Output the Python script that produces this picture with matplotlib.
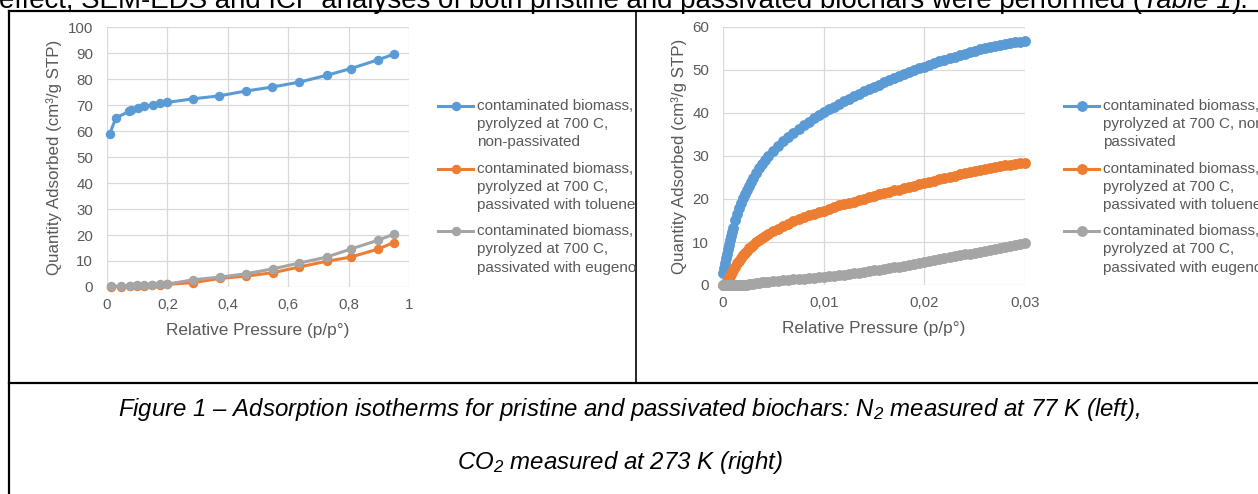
import matplotlib
matplotlib.use("Agg")
import matplotlib.pyplot as plt
from matplotlib.legend_handler import HandlerLine2D
from matplotlib.lines import Line2D
from matplotlib.transforms import Bbox

plt.rcParams['font.family'] = ['Liberation Sans', 'DejaVu Sans']
plt.rcParams['mathtext.fontset'] = 'custom'
plt.rcParams['mathtext.rm'] = 'Liberation Sans:italic'
plt.rcParams['mathtext.it'] = 'Liberation Sans:italic'

# ---- N2 isotherm (left)
n2_x_blue = [0.009, 0.030, 0.074, 0.080, 0.101, 0.124, 0.151, 0.176, 0.200, 0.286,
             0.371, 0.461, 0.547, 0.637, 0.727, 0.807, 0.898, 0.949]
n2_blue = [59.0, 65.1, 67.6, 68.2, 68.7, 69.6, 70.0, 70.6, 71.0, 72.4,
           73.5, 75.4, 76.9, 78.8, 81.4, 84.0, 87.4, 89.5]
n2_x_other = [0.013, 0.047, 0.077, 0.100, 0.124, 0.150, 0.176, 0.200, 0.286,
              0.374, 0.461, 0.550, 0.637, 0.727, 0.807, 0.898, 0.949]
n2_orange = [0.1, 0.1, 0.2, 0.4, 0.5, 0.7, 0.9, 1.0, 1.7,
             3.3, 4.2, 5.5, 7.7, 9.9, 11.5, 14.6, 17.1]
n2_gray = [0.3, 0.3, 0.3, 0.6, 0.7, 0.9, 1.0, 1.1, 2.8,
           3.8, 5.1, 7.0, 9.2, 11.5, 14.6, 18.0, 20.3]

# ---- CO2 isotherm (right)
co2_x = [0, 0.0001, 0.0002, 0.0003, 0.0004, 0.0005, 0.0006, 0.0007, 0.0008, 0.0009, 0.001,
         0.0012, 0.0014, 0.0016, 0.0018, 0.002, 0.0022, 0.0024, 0.0026, 0.0028, 0.003,
         0.0033, 0.0036, 0.0039, 0.0042, 0.0045,
         0.005, 0.0055, 0.006, 0.0065, 0.007, 0.0075, 0.008, 0.0085, 0.009, 0.0095,
         0.01, 0.0105, 0.011, 0.0115, 0.012, 0.0125, 0.013, 0.0135, 0.014, 0.0145,
         0.015, 0.0155, 0.016, 0.0165, 0.017, 0.0175, 0.018, 0.0185, 0.019, 0.0195,
         0.02, 0.0205, 0.021, 0.0215, 0.022, 0.0225, 0.023, 0.0235, 0.024, 0.0245,
         0.025, 0.0255, 0.026, 0.0265, 0.027, 0.0275, 0.028, 0.0285, 0.029, 0.0295,
         0.03]
co2_blue = [2.7, 4.0, 5.0, 6.2, 7.3, 8.4, 9.4, 10.5, 11.4, 12.4, 13.3,
            15.0, 16.6, 17.8, 19.0, 20.2, 21.2, 22.2, 23.1, 24.0, 24.9,
            26.0, 27.1, 28.1, 29.0, 29.9,
            31.2, 32.4, 33.5, 34.5, 35.4, 36.3, 37.2, 38.0, 38.8, 39.5,
            40.2, 40.9, 41.5, 42.1, 42.7, 43.3, 43.9, 44.4, 45.0, 45.5,
            46.1, 46.6, 47.1, 47.6, 48.1, 48.6, 49.1, 49.5, 50.0, 50.4,
            50.8, 51.2, 51.6, 52.0, 52.4, 52.8, 53.1, 53.5, 53.8, 54.1,
            54.5, 54.8, 55.1, 55.4, 55.6, 55.8, 56.0, 56.2, 56.4, 56.6,
            56.7]
co2_orange = [0.0, 0.0, 0.1, 0.4, 0.9, 1.3, 1.7, 2.1, 2.6, 3.0, 3.4,
              4.2, 5.0, 5.6, 6.3, 6.9, 7.4, 8.0, 8.5, 8.9, 9.3,
              9.9, 10.4, 10.9, 11.4, 11.9,
              12.5, 13.1, 13.7, 14.2, 14.8, 15.3, 15.8, 16.2, 16.5, 16.9,
              17.3, 17.7, 18.1, 18.5, 18.8, 19.1, 19.4, 19.7, 20.1, 20.5,
              20.8, 21.1, 21.4, 21.7, 22.0, 22.2, 22.5, 22.8, 23.1, 23.4,
              23.7, 24.0, 24.3, 24.6, 24.9, 25.2, 25.4, 25.7, 26.0, 26.2,
              26.5, 26.7, 27.0, 27.2, 27.4, 27.6, 27.8, 28.0, 28.2, 28.3,
              28.4]
co2_gray = [0.0, 0.0, 0.0, 0.0, 0.0, 0.0, 0.0, 0.0, 0.0, 0.0, 0.0,
            0.0, 0.0, 0.0, 0.0, 0.0, 0.1, 0.1, 0.2, 0.2, 0.3,
            0.4, 0.5, 0.6, 0.7, 0.8,
            0.9, 1.0, 1.1, 1.2, 1.3, 1.4, 1.5, 1.6, 1.7, 1.8,
            1.9, 2.0, 2.2, 2.3, 2.4, 2.6, 2.7, 2.9, 3.0, 3.2,
            3.4, 3.6, 3.7, 3.9, 4.1, 4.3, 4.5, 4.7, 4.9, 5.1,
            5.3, 5.5, 5.7, 6.0, 6.2, 6.4, 6.7, 6.9, 7.1, 7.3,
            7.5, 7.7, 7.9, 8.2, 8.4, 8.6, 8.8, 9.1, 9.3, 9.5,
            9.7]

labels_left = ["contaminated biomass,\npyrolyzed at 700 C,\nnon-passivated",
               "contaminated biomass,\npyrolyzed at 700 C,\npassivated with toluene",
               "contaminated biomass,\npyrolyzed at 700 C,\npassivated with eugenol"]
labels_right = ["contaminated biomass,\npyrolyzed at 700 C, non-\npassivated",
                "contaminated biomass,\npyrolyzed at 700 C,\npassivated with toluene",
                "contaminated biomass,\npyrolyzed at 700 C,\npassivated with eugenol"]
colors = ["#5B9BD5", "#ED7D31", "#A5A5A5"]

left_xticks = [0, 0.2, 0.4, 0.6, 0.8, 1]
left_xticklabels = ["0", "0,2", "0,4", "0,6", "0,8", "1"]
right_xticks = [0, 0.01, 0.02, 0.03]
right_xticklabels = ["0", "0,01", "0,02", "0,03"]

TXT = "#595959"
W, H = 1258, 494
fig = plt.figure(figsize=(W / 100, H / 100), dpi=100)


def px_axes(left, top, right, bottom):
    return fig.add_axes([left / W, 1 - bottom / H, (right - left) / W, (bottom - top) / H])


class FirstLineHandler(HandlerLine2D):
    # put the legend handle on the first line of a multi-line label
    def __init__(self, shift, **kw):
        super().__init__(**kw)
        self.shift = shift

    def create_artists(self, legend, orig_handle, xdescent, ydescent, width, height, fontsize, trans):
        return super().create_artists(legend, orig_handle, xdescent, ydescent - 2 * self.shift,
                                      width, height, fontsize, trans)


# page / table background
bg = fig.add_axes([0, 0, 1, 1], zorder=-1)
bg.set_xlim(0, W)
bg.set_ylim(H, 0)
bg.axis('off')
bg.plot([9, W], [11, 11], color='black', lw=1.6)
bg.plot([9, 9], [11, H], color='black', lw=1.6)
bg.plot([636, 636], [11, 383], color='black', lw=1.2)
bg.plot([9, W], [383, 383], color='black', lw=1.6)

renderer = fig.canvas.get_renderer()
top_fs = 19.9
t1 = bg.text(-1, 8, "effect, SEM-EDS and ICP analyses of both pristine and passivated biochars were performed (",
             fontsize=top_fs, va='baseline', ha='left', color='black')
x1 = t1.get_window_extent(renderer).x1
t2 = bg.text(x1, 8, "Table 1", fontsize=top_fs, va='baseline', ha='left', style='italic', color='black')
x2 = t2.get_window_extent(renderer).x1
bg.text(x2, 8, ").", fontsize=top_fs, va='baseline', ha='left', color='black')

bg.text(629, 416, "Figure 1 – Adsorption isotherms for pristine and passivated biochars: N$_2$ measured at 77 K (left),",
        fontsize=17.3, style='italic', ha='center', va='baseline', color='black')
bg.text(620, 469, "CO$_2$ measured at 273 K (right)",
        fontsize=17.3, style='italic', ha='center', va='baseline', color='black')


def style_axes(ax, xlim, ylim, xticks, xticklabels, yticks):
    ax.set_xlim(*xlim)
    ax.set_ylim(*ylim)
    ax.set_xticks(xticks)
    ax.set_xticklabels(xticklabels)
    ax.set_yticks(yticks)
    for s in ax.spines.values():
        s.set_visible(False)
    ax.grid(True, color="#D9D9D9", lw=0.9)
    ax.set_axisbelow(True)
    ax.tick_params(length=0, labelsize=10.8, labelcolor=TXT)
    ax.tick_params(axis='y', pad=10)
    ax.tick_params(axis='x', pad=8)
    ax.set_xlabel("Relative Pressure (p/p°)", fontsize=12.4, color=TXT)
    ax.set_ylabel("Quantity Adsorbed (cm³/g STP)", fontsize=12.2, color=TXT)


# left chart
axl = px_axes(107, 27, 409, 287)
axl.plot(n2_x_blue, n2_blue, color=colors[0], lw=2.2, marker='o', ms=5.8, label=labels_left[0], clip_on=False)
axl.plot(n2_x_other, n2_orange, color=colors[1], lw=2.2, marker='o', ms=5.8, label=labels_left[1], clip_on=False)
axl.plot(n2_x_other, n2_gray, color=colors[2], lw=2.2, marker='o', ms=5.8, label=labels_left[2], clip_on=False)
style_axes(axl, (0, 1), (0, 100), left_xticks, left_xticklabels, range(0, 101, 10))
axl.yaxis.set_label_coords(-0.15, 0.5)
axl.xaxis.set_label_coords(0.5, -0.14)

# right chart
axr = px_axes(723, 27, 1025, 285)
axr.plot(co2_x, co2_blue, color=colors[0], lw=2.2, marker='o', ms=6.8, label=labels_right[0], clip_on=False)
axr.plot(co2_x, co2_orange, color=colors[1], lw=2.2, marker='o', ms=6.8, label=labels_right[1], clip_on=False)
axr.plot(co2_x, co2_gray, color=colors[2], lw=2.2, marker='o', ms=6.8, label=labels_right[2], clip_on=False)
style_axes(axr, (0, 0.03), (0, 60), right_xticks, right_xticklabels, range(0, 61, 10))
axr.yaxis.set_label_coords(-0.12, 0.5)
axr.xaxis.set_label_coords(0.5, -0.14)

fs = 11
for ax, hx, clip in [(axl, 438, (10, 111, 636, 482)), (axr, 1064, (637, 111, W, 482))]:
    leg = ax.legend(loc='upper left', bbox_to_anchor=(hx / W, 1 - 99 / H),
                    bbox_transform=fig.transFigure, frameon=False, fontsize=fs,
                    borderpad=0, borderaxespad=0, handlelength=2.3, handletextpad=0.25,
                    labelspacing=0.8, numpoints=1, markerscale=1.0,
                    handler_map={Line2D: FirstLineHandler(13.0)})
    for t in leg.get_texts():
        t.set_color(TXT)
        t.set_linespacing(1.38)
        t.set_clip_box(Bbox.from_extents(*clip))
        t.set_clip_on(True)

fig.savefig("out.png", dpi=100)
